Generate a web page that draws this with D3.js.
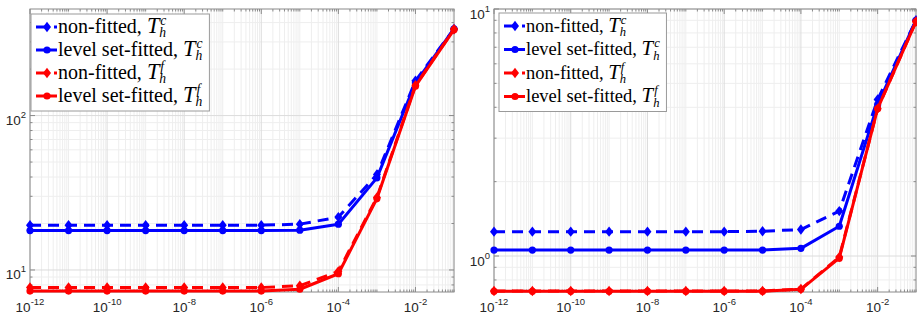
<!DOCTYPE html>
<html>
<head>
<meta charset="utf-8">
<script src="https://cdn.jsdelivr.net/npm/d3@7"></script>
<style>
  body { margin: 0; background: #fff; }
  svg { display: block; }
</style>
</head>
<body>
<div id="chart"></div>
<script>
const width = 917;
const height = 322;

// x values (tolerance / epsilon) shared by all series
const epsValues = [1e-12, 1e-11, 1e-10, 1e-9, 1e-8, 1e-7, 1e-6, 1e-5, 1e-4, 1e-3, 1e-2, 1e-1];
const xTickValues = [1e-12, 1e-10, 1e-8, 1e-6, 1e-4, 1e-2];

// left panel
const leftNonFittedC = [19.5, 19.5, 19.5, 19.5, 19.5, 19.5, 19.5, 19.8, 22.0, 41.5, 168, 364];
const leftFittedC    = [18.0, 18.0, 18.0, 18.0, 18.0, 18.0, 18.0, 18.1, 19.8, 39.5, 163, 364];
const leftNonFittedF = [7.7, 7.7, 7.7, 7.7, 7.7, 7.7, 7.7, 7.9, 9.8, 29.5, 157, 362];
const leftFittedF    = [7.3, 7.3, 7.3, 7.3, 7.3, 7.3, 7.3, 7.5, 9.45, 29.0, 155, 360];
const leftYTicks = [10, 100];

// right panel
const rightNonFittedC = [1.255, 1.255, 1.255, 1.255, 1.255, 1.255, 1.255, 1.26, 1.28, 1.52, 4.3, 9.0];
const rightFittedC    = [1.057, 1.057, 1.057, 1.057, 1.057, 1.057, 1.057, 1.057, 1.074, 1.32, 4.1, 9.0];
const rightNonFittedF = [0.722, 0.722, 0.722, 0.722, 0.722, 0.722, 0.722, 0.722, 0.735, 0.99, 3.95, 8.9];
const rightFittedF    = [0.72, 0.72, 0.72, 0.72, 0.72, 0.72, 0.72, 0.72, 0.733, 0.98, 3.95, 8.9];
const rightYTicks = [1, 10];

const seriesNames = ["non-fitted, ", "level set-fitted, ", "non-fitted, ", "level set-fitted, "];
const meshSuper = ["c", "c", "f", "f"];

const seriesStyle = [
  { color: "#0000ff", dash: "11,7", marker: "diamond" },
  { color: "#0000ff", dash: null, marker: "circle" },
  { color: "#ff0000", dash: "11,7", marker: "diamond" },
  { color: "#ff0000", dash: null, marker: "circle" }
];

const panels = [
  { left: 30, right: 454, top: 9, bottom: 292, yDomain: [7.2, 490], yTicks: leftYTicks,
    data: [leftNonFittedC, leftFittedC, leftNonFittedF, leftFittedF],
    legend: { x: 31, y: 14, font: 20, rowStart: 27, rowStep: 23 } },
  { left: 494, right: 916, top: 9, bottom: 292, yDomain: [0.715, 10], yTicks: rightYTicks,
    data: [rightNonFittedC, rightFittedC, rightNonFittedF, rightFittedF],
    legend: { x: 499, y: 13, font: 18.5, rowStart: 26, rowStep: 23.5 } }
];

const serif = "'Liberation Serif', 'DejaVu Serif', 'Times New Roman', serif";
const sans = "'Liberation Sans', Arial, 'DejaVu Sans', sans-serif";

const svg = d3.select("#chart")
  .append("svg")
  .attr("width", width)
  .attr("height", height);

const axisColor = "#8a8a8a";
const labelColor = "#262626";

function logMinors(d0, d1) {
  const out = [];
  const k0 = Math.floor(Math.log10(d0)), k1 = Math.ceil(Math.log10(d1));
  for (let k = k0; k <= k1; k++) {
    for (let m = 1; m <= 9; m++) {
      const v = m * Math.pow(10, k);
      if (v >= d0 * 0.9999 && v <= d1 * 1.0001) out.push(v);
    }
  }
  return out;
}

function isIn(v, arr) {
  return arr.some(t => Math.abs(Math.log10(t) - Math.log10(v)) < 1e-6);
}

function drawMarker(g, type, cx, cy, color, scale = 1) {
  if (type === "diamond") {
    const w = 4 * scale, h = 5.2 * scale;
    g.append("path")
      .attr("d", `M${cx},${cy - h}L${cx + w},${cy}L${cx},${cy + h}L${cx - w},${cy}Z`)
      .attr("fill", color);
  } else {
    g.append("circle")
      .attr("cx", cx).attr("cy", cy).attr("r", 3.6 * scale)
      .attr("fill", color);
  }
}

function tickLabel(g, x, y, exp, anchor) {
  const t = g.append("text")
    .attr("x", x).attr("y", y)
    .attr("text-anchor", anchor)
    .attr("fill", labelColor)
    .attr("font-family", sans)
    .attr("font-size", 13.5);
  t.append("tspan").text("10");
  t.append("tspan").attr("dy", -7).attr("font-size", 9.5).text(exp);
}

panels.forEach(p => {
  const g = svg.append("g");
  const x = d3.scaleLog().domain([1e-12, 1e-1]).range([p.left, p.right]);
  const y = d3.scaleLog().domain(p.yDomain).range([p.bottom, p.top]);

  const xMinor = logMinors(1e-12, 1e-1);
  const yMinor = logMinors(p.yDomain[0], p.yDomain[1]);

  // minor grid
  g.selectAll("line.xminor")
    .data(xMinor.filter(v => !isIn(v, xTickValues)))
    .join("line")
    .attr("x1", d => x(d)).attr("x2", d => x(d))
    .attr("y1", p.top).attr("y2", p.bottom)
    .attr("stroke", "#eeeeee").attr("stroke-width", 1);
  g.selectAll("line.yminor")
    .data(yMinor.filter(v => !isIn(v, p.yTicks)))
    .join("line")
    .attr("x1", p.left).attr("x2", p.right)
    .attr("y1", d => y(d)).attr("y2", d => y(d))
    .attr("stroke", "#eeeeee").attr("stroke-width", 1);

  // major grid
  xTickValues.forEach(v => {
    g.append("line")
      .attr("x1", x(v)).attr("x2", x(v))
      .attr("y1", p.top).attr("y2", p.bottom)
      .attr("stroke", "#dcdcdc");
  });
  p.yTicks.forEach(v => {
    g.append("line")
      .attr("x1", p.left).attr("x2", p.right)
      .attr("y1", y(v)).attr("y2", y(v))
      .attr("stroke", "#dcdcdc");
  });

  // box
  g.append("rect")
    .attr("x", p.left).attr("y", p.top)
    .attr("width", p.right - p.left).attr("height", p.bottom - p.top)
    .attr("fill", "none").attr("stroke", axisColor).attr("stroke-width", 1);

  // ticks (inward, all four sides)
  xMinor.forEach(v => {
    const len = isIn(v, xTickValues) ? 5 : 2.5;
    g.append("line").attr("x1", x(v)).attr("x2", x(v))
      .attr("y1", p.bottom).attr("y2", p.bottom - len).attr("stroke", axisColor);
    g.append("line").attr("x1", x(v)).attr("x2", x(v))
      .attr("y1", p.top).attr("y2", p.top + len).attr("stroke", axisColor);
  });
  yMinor.forEach(v => {
    const len = isIn(v, p.yTicks) ? 5 : 2.5;
    g.append("line").attr("y1", y(v)).attr("y2", y(v))
      .attr("x1", p.left).attr("x2", p.left + len).attr("stroke", axisColor);
    g.append("line").attr("y1", y(v)).attr("y2", y(v))
      .attr("x1", p.right).attr("x2", p.right - len).attr("stroke", axisColor);
  });

  // tick labels
  xTickValues.forEach(v => {
    tickLabel(g, x(v), p.bottom + 19.5, String(Math.round(Math.log10(v))), "middle");
  });
  p.yTicks.forEach(v => {
    tickLabel(g, p.left - 4, y(v) + 9.5, String(Math.round(Math.log10(v))), "end");
  });

  // series
  const line = d3.line().x(d => x(d[0])).y(d => y(d[1]));
  p.data.forEach((vals, i) => {
    const st = seriesStyle[i];
    const pts = epsValues.map((e, j) => [e, vals[j]]);
    g.append("path")
      .attr("d", line(pts))
      .attr("fill", "none")
      .attr("stroke", st.color)
      .attr("stroke-width", 3)
      .attr("stroke-linejoin", "round")
      .attr("stroke-dasharray", st.dash);
    pts.forEach(d => drawMarker(g, st.marker, x(d[0]), y(d[1]), st.color));
  });

  // legend
  const L = p.legend;
  const lg = g.append("g");
  const box = lg.append("rect")
    .attr("x", L.x).attr("y", L.y)
    .attr("fill", "#fff").attr("stroke", "#9a9a9a").attr("stroke-width", 1);
  let maxRight = 0;
  seriesNames.forEach((name, i) => {
    const st = seriesStyle[i];
    const ry = L.rowStart + i * L.rowStep;
    lg.append("line")
      .attr("x1", L.x + 5).attr("x2", L.x + 26)
      .attr("y1", ry).attr("y2", ry)
      .attr("stroke", st.color).attr("stroke-width", 3)
      .attr("stroke-dasharray", st.dash);
    drawMarker(lg, st.marker, L.x + 16, ry, st.color);

    const tx = L.x + 27;
    const t = lg.append("text")
      .attr("x", tx).attr("y", ry + 5.5)
      .attr("fill", "#000")
      .attr("font-family", serif)
      .attr("font-size", L.font);
    t.append("tspan").text(name);
    t.append("tspan").attr("font-style", "italic").attr("font-size", L.font * 1.12).text("T");
    const len = t.node().getComputedTextLength();
    const sx = tx + len + 1;
    const small = +(L.font * 0.68).toFixed(1);
    // superscript mesh label and subscript h, stacked at the same x
    t.append("tspan")
      .attr("x", sx).attr("dy", -8)
      .attr("font-style", "italic").attr("font-size", small)
      .text(meshSuper[i]);
    t.append("tspan")
      .attr("x", sx - 1).attr("dy", 12.5)
      .attr("font-style", "italic").attr("font-size", small)
      .text("h");
    maxRight = Math.max(maxRight, sx + L.font * 0.45);
  });
  box.attr("width", maxRight + 4 - L.x)
    .attr("height", L.rowStart + 3 * L.rowStep + 15 - L.y);
});
</script>
</body>
</html>
